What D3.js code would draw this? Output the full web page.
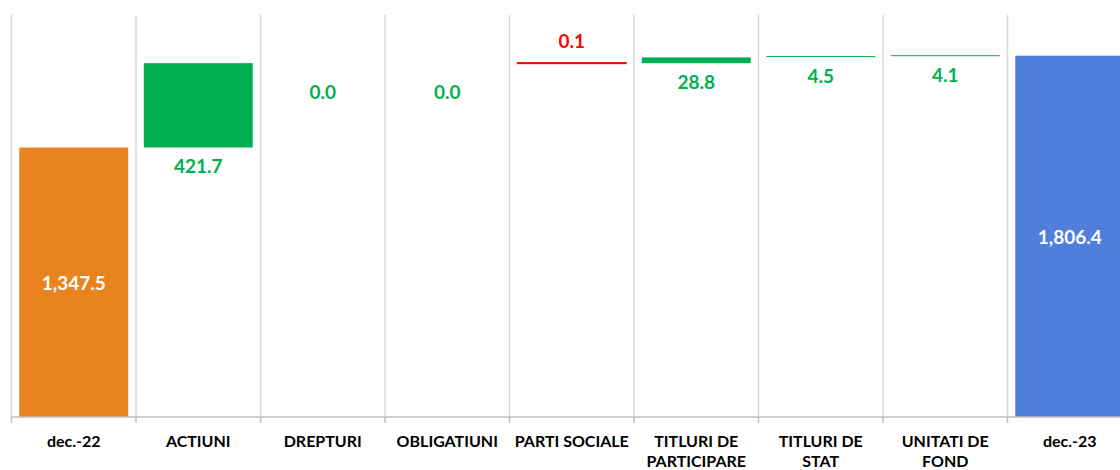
<!DOCTYPE html>
<html>
<head>
<meta charset="utf-8">
<script src="https://cdn.jsdelivr.net/npm/d3@7"></script>
<style>
  body { margin: 0; background: #fff; }
  svg { display: block; font-family: Lato, "Open Sans", sans-serif; }
</style>
</head>
<body>
<svg id="chart" width="1120" height="470"></svg>
<script>
// waterfall: dec.-22 -> dec.-23
var categories = ["dec.-22", "ACTIUNI", "DREPTURI", "OBLIGATIUNI", "PARTI SOCIALE",
                  "TITLURI DE PARTICIPARE", "TITLURI DE STAT", "UNITATI DE FOND", "dec.-23"];
var values = [1347.5, 421.7, 0.0, 0.0, -0.1, 28.8, 4.5, 4.1, 1806.4];
var kinds = ["total", "delta", "delta", "delta", "delta", "delta", "delta", "delta", "total"];
var yDomain = [0, 2010];

var svg = d3.select("#chart"),
	baseY = 417,
	topY = 15,
	step = 124.5,
	left = 11.5,
	fmt = d3.format(",.1f");

var x = d3.scaleBand()
	.domain(categories)
	.range([left, left + step * categories.length])
	.paddingInner(0.125)
	.paddingOuter(0.0625);

var y = d3.scaleLinear().domain(yDomain).range([baseY, topY]);

// build running totals
var running = 0;
var rows = categories.map(function(c, i) {
	var v = values[i], lo, hi;
	if (kinds[i] === "total") {
		lo = 0; hi = v; running = v;
	} else {
		lo = Math.min(running, running + v);
		hi = Math.max(running, running + v);
		running += v;
	}
	return {cat: c, value: v, kind: kinds[i], lo: lo, hi: hi};
});

function barColor(d) {
	if (d.kind === "total") return d.cat === "dec.-22" ? "#E8831F" : "#4F7EDB";
	return d.value < 0 ? "#FF0000" : "#00B050";
}

// --- GRIDLINES --- //
var bounds = d3.range(categories.length + 1).map(function(i) { return left + i * step; });
svg.selectAll(".grid").data(bounds).enter().append("line")
	.attr("class", "grid")
	.attr("x1", function(d) { return d; })
	.attr("x2", function(d) { return d; })
	.attr("y1", topY)
	.attr("y2", baseY)
	.attr("stroke", "#d9d9d9")
	.attr("stroke-width", 1.5);

// --- BARS --- //
svg.selectAll(".bar").data(rows).enter().append("rect")
	.attr("class", "bar")
	.attr("x", function(d) { return x(d.cat); })
	.attr("width", x.bandwidth())
	.attr("y", function(d) {
		var h = y(d.lo) - y(d.hi);
		return (d.value !== 0 && h < 1) ? y(d.hi) - 0.5 : y(d.hi);
	})
	.attr("height", function(d) {
		var h = y(d.lo) - y(d.hi);
		return d.value === 0 ? 0 : Math.max(h, 1);
	})
	.attr("fill", barColor)
	.attr("stroke", function(d) { return d.value < 0 ? "#FF0000" : "none"; })
	.attr("stroke-width", 1);

// --- AXIS --- //
svg.append("line")
	.attr("x1", left).attr("x2", 1120)
	.attr("y1", baseY).attr("y2", baseY)
	.attr("stroke", "#bfbfbf").attr("stroke-width", 1.5);

svg.selectAll(".tick").data(bounds).enter().append("line")
	.attr("class", "tick")
	.attr("x1", function(d) { return d; })
	.attr("x2", function(d) { return d; })
	.attr("y1", baseY)
	.attr("y2", baseY + 6)
	.attr("stroke", "#bfbfbf")
	.attr("stroke-width", 1.5);

// category labels, two lines for the long ones
svg.selectAll(".cat").data(categories).enter().append("text")
	.attr("class", "cat")
	.attr("text-anchor", "middle")
	.attr("font-size", 16)
	.attr("font-weight", "bold")
	.attr("fill", "#000")
	.each(function(c) {
		var words = c.split(" "),
			lines = (words.length > 2) ? [words.slice(0, 2).join(" "), words.slice(2).join(" ")] : [c],
			cx = x(c) + x.bandwidth() / 2,
			t = d3.select(this);
		lines.forEach(function(l, i) {
			t.append("tspan").attr("x", cx).attr("y", 447 + i * 20).text(l);
		});
	});

// --- VALUE LABELS --- //
svg.selectAll(".val").data(rows).enter().append("text")
	.attr("class", "val")
	.attr("text-anchor", "middle")
	.attr("dominant-baseline", "central")
	.attr("font-size", 19)
	.attr("font-weight", "bold")
	.attr("x", function(d) { return x(d.cat) + x.bandwidth() / 2; })
	.attr("y", function(d) {
		if (d.kind === "total") return (y(0) + y(d.hi)) / 2;
		if (d.value < 0) return y(d.hi) - 23;
		if (d.value === 0) return y(d.lo) + 28;
		return y(d.lo) + 18;
	})
	.attr("fill", function(d) {
		if (d.kind === "total") return "#fff";
		return d.value < 0 ? "#FF0000" : "#00B050";
	})
	.text(function(d) { return fmt(Math.abs(d.value)); });
</script>
</body>
</html>
